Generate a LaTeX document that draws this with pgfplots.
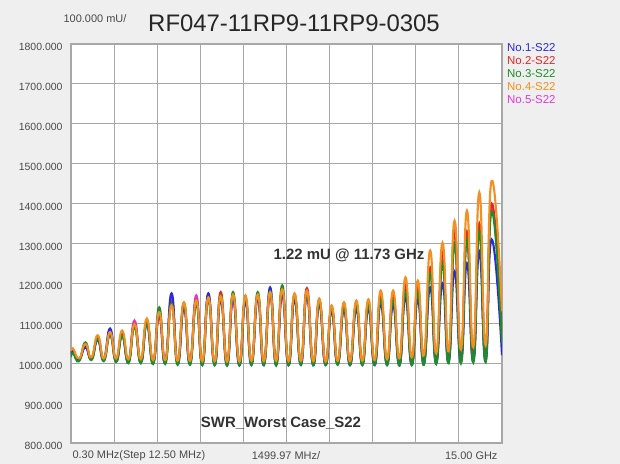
\documentclass[border=0pt]{standalone}
\usepackage{pgfplots}
\usepackage{pgfplotstable}
\usepackage{fontspec}
\setmainfont{Liberation Sans}
\pgfplotsset{compat=1.18}

\definecolor{bgc}{HTML}{EFEFEF}
\definecolor{gridc}{HTML}{A8A8A8}
\definecolor{txtc}{HTML}{4A4A4A}
\definecolor{sBlue}{HTML}{2A2AD8}
\definecolor{sRed}{HTML}{E02828}
\definecolor{sGreen}{HTML}{1E8C2A}
\definecolor{sOrange}{HTML}{F39021}
\definecolor{sMag}{HTML}{E23AD8}

% x in GHz, one row per peak / trough, columns = No.1 ... No.5
\pgfplotstableread{
x     b    r    g    o    m
0.00  1020 1025 1015 1030 1022
0.07  1030 1028 1025 1037 1032
0.28  1010 1008 1005 1012 1010
0.50  1040 1045 1052 1048 1042
0.71  1012 1010 1008 1015 1010
0.93  1058 1065 1062 1070 1060
1.14  1010 1008 1005 1012 1010
1.36  1087 1075 1072 1078 1070
1.57  1005 1008 1003 1012 1006
1.78  1070 1075 1068 1082 1072
2.00  1003 1006 1000 1010 1004
2.21  1095 1100 1090 1098 1107
2.43  1002 1005 1000 1010 1003
2.64  1098 1105 1100 1112 1102
2.86  1000 1004 998  1008 1002
3.07  1125 1120 1140 1128 1118
3.28  1000 1003 998  1008 1002
3.50  1175 1155 1150 1145 1160
3.71  998  1002 996  1006 1000
3.93  1140 1150 1148 1153 1142
4.14  998  1002 996  1006 1000
4.36  1155 1160 1150 1158 1170
4.57  996  1000 995  1005 998
4.78  1175 1168 1160 1165 1162
5.00  996  1000 995  1005 998
5.21  1160 1178 1170 1168 1165
5.43  995  1000 994  1004 998
5.64  1162 1170 1178 1172 1160
5.86  995  1000 994  1004 998
6.07  1155 1162 1165 1170 1158
6.28  996  1002 995  1006 1000
6.50  1165 1170 1178 1172 1163
6.71  995  1000 996  1005 998
6.93  1190 1175 1180 1178 1170
7.14  996  1001 994  1006 999
7.35  1175 1180 1195 1185 1172
7.57  995  1000 995  1005 998
7.78  1160 1170 1172 1175 1165
8.00  996  1002 996  1006 1000
8.21  1170 1188 1178 1182 1172
8.43  995  1000 995  1005 998
8.64  1148 1158 1155 1162 1150
8.86  996  998  995  1004 997
9.07  1130 1140 1138 1145 1135
9.28  997  1000 996  1006 999
9.50  1135 1145 1142 1153 1140
9.71  995  999  996  1005 998
9.93  1135 1150 1145 1157 1145
10.14 996  1000 995  1006 999
10.35 1135 1152 1145 1160 1148
10.57 995  999  996  1008 998
10.78 1150 1170 1160 1182 1165
11.00 996  1000 995  1010 999
11.21 1145 1172 1158 1182 1168
11.43 995  999  994  1012 998
11.64 1165 1195 1180 1215 1185
11.86 996  1000 995  1015 999
12.07 1160 1190 1178 1207 1180
12.28 998  1002 996  1020 1002
12.50 1190 1240 1225 1282 1230
12.71 1000 1005 998  1025 1004
12.93 1200 1280 1250 1302 1260
13.14 1002 1008 1000 1030 1006
13.35 1230 1330 1300 1357 1300
13.57 1002 1010 1000 1035 1008
13.78 1250 1330 1310 1382 1310
14.00 1004 1012 1002 1040 1010
14.21 1280 1350 1330 1428 1340
14.43 1005 1015 1003 1045 1012
14.64 1310 1400 1380 1457 1390
15.00 1020 1060 1050 1130 1080
}\swr

\begin{document}
\begin{tikzpicture}
\fill[bgc] (-71bp,-21bp) rectangle (549bp,443bp);
\useasboundingbox (-71bp,-21bp) rectangle (549bp,443bp);
\begin{axis}[
    at={(0,0)}, anchor=south west,
    scale only axis,
    width=431bp, height=399bp,
    xmin=0, xmax=15, ymin=800, ymax=1800,
    xtick={0,1.5,3,4.5,6,7.5,9,10.5,12,13.5,15},
    xticklabels={},
    ytick={800,900,...,1800},
    grid=major,
    major grid style={draw=gridc, line width=1bp},
    axis line style={draw=gridc, line width=1.4bp},
    major tick length=0pt,
    axis background/.style={fill=white},
    yticklabel style={font=\fontsize{10.5}{12}\selectfont, text=txtc, yshift=-3bp, xshift=-5bp},
    y tick label style={/pgf/number format/.cd, fixed, fixed zerofill, precision=3, 1000 sep={}, assume math mode=true},
    every axis plot/.append style={line width=2.1bp, smooth, tension=0.9, no marks},
]
\addplot[sMag]    table[x=x, y=m] {\swr};
\addplot[sRed]    table[x=x, y=r] {\swr};
\addplot[sBlue]   table[x=x, y=b] {\swr};
\addplot[sGreen]  table[x=x, y=g] {\swr};
\addplot[sOrange] table[x=x, y=o] {\swr};
\end{axis}

% titles and labels, positions in image pixels shifted to the axis origin
\node[font=\fontsize{24}{26}\selectfont, text=black!85] at (223bp,420bp) {RF047-11RP9-11RP9-0305};
\node[font=\fontsize{11}{13}\selectfont, text=txtc] at (24bp,424bp) {100.000 mU/};
\node[font=\bfseries\fontsize{15}{17}\selectfont, text=black!80] at (278bp,188bp) {1.22 mU @ 11.73 GHz};
\node[font=\bfseries\fontsize{15}{17}\selectfont, text=black!80] at (210bp,20bp) {SWR\_Worst Case\_S22};
\node[font=\fontsize{11}{13}\selectfont, text=txtc, anchor=west] at (-2bp,-13bp) {0.30 MHz(Step 12.50 MHz)};
\node[font=\fontsize{11}{13}\selectfont, text=txtc] at (215bp,-13bp) {1499.97 MHz/};
\node[font=\fontsize{11}{13}\selectfont, text=txtc, anchor=east] at (430bp,-13bp) {15.00 GHz};

% series key at the right
\begin{scope}[every node/.style={font=\fontsize{11.5}{13}\selectfont, anchor=west, inner sep=0pt}]
\node[text=sBlue]   at (436bp,395bp) {No.1-S22};
\node[text=sRed]    at (436bp,382bp) {No.2-S22};
\node[text=sGreen]  at (436bp,369bp) {No.3-S22};
\node[text=sOrange] at (436bp,356bp) {No.4-S22};
\node[text=sMag]    at (436bp,343bp) {No.5-S22};
\end{scope}
\end{tikzpicture}
\end{document}
